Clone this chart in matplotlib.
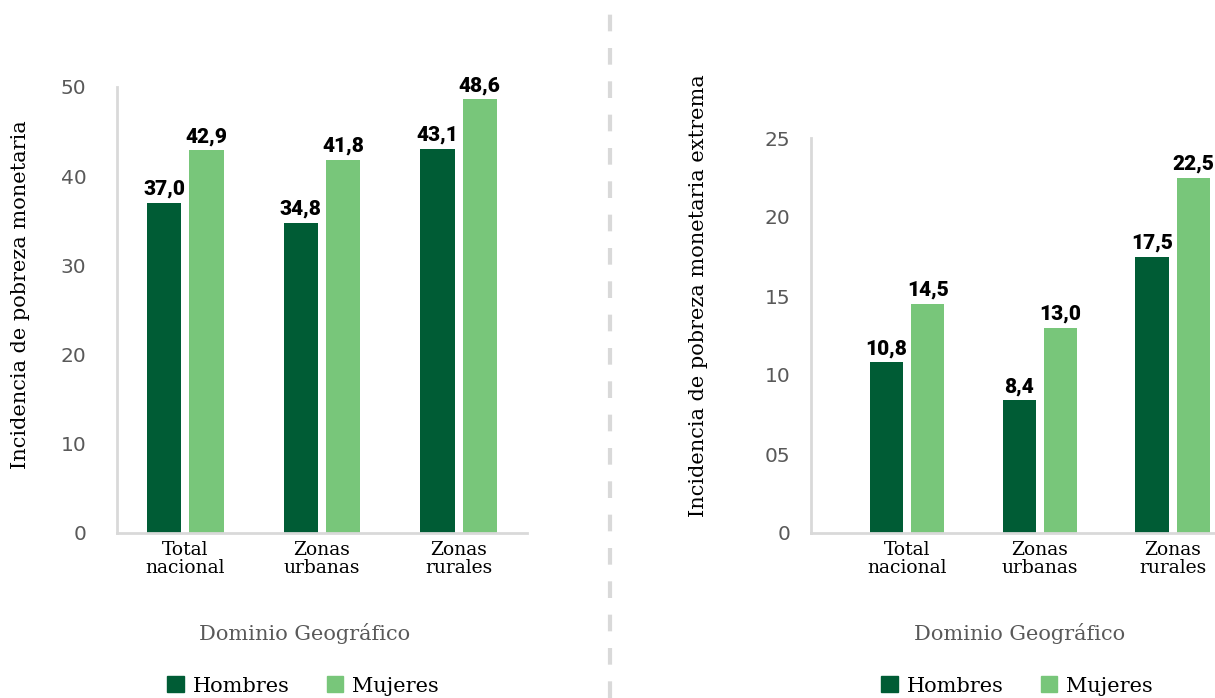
import matplotlib
matplotlib.use("Agg")
import matplotlib.pyplot as plt
import numpy as np
from matplotlib.patches import Patch
from matplotlib.lines import Line2D

# data
categorias = ['Total\nnacional', 'Zonas\nurbanas', 'Zonas\nrurales']
pobreza_hombres = [37.0, 34.8, 43.1]
pobreza_mujeres = [42.9, 41.8, 48.6]
extrema_hombres = [10.8, 8.4, 17.5]
extrema_mujeres = [14.5, 13.0, 22.5]
ticks_izq = [0, 10, 20, 30, 40, 50]
ticks_der = [0, 5, 10, 15, 20, 25]
ticks_der_labels = ['0', '05', '10', '15', '20', '25']

verde_osc = '#005C35'
verde_cla = '#78C67A'
gris_eje = '#d9d9d9'
gris_txt = '#595959'

W, H = 1215, 698
fig = plt.figure(figsize=(W / 100, H / 100), dpi=100)


def px_axes(x0, y_top, x1, y_bot):
    return fig.add_axes([x0 / W, 1 - y_bot / H, (x1 - x0) / W, (y_bot - y_top) / H])


def fmt(v):
    return f'{v:.1f}'.replace('.', ',')


def dibujar(ax, hombres, mujeres, ylim, ticks, ticklabels, ylabel, pad):
    x = np.arange(len(categorias))
    b1 = ax.bar(x - 0.155, hombres, width=0.25, color=verde_osc)
    b2 = ax.bar(x + 0.155, mujeres, width=0.25, color=verde_cla)
    for bars, vals in ((b1, hombres), (b2, mujeres)):
        ax.bar_label(bars, labels=[fmt(v) for v in vals], padding=3,
                     fontsize=15, fontweight='black', color='black',
                     family='Roboto')
    ax.set_ylim(*ylim)
    ax.set_yticks(ticks)
    ax.set_yticklabels(ticklabels, fontsize=14.5, color=gris_txt, family='DejaVu Sans')
    ax.set_xticks(x)
    ax.set_xticklabels(categorias, fontsize=13.5, color='black', family='DejaVu Serif',
                       linespacing=0.95)
    ax.tick_params(axis='y', length=0, pad=pad)
    ax.tick_params(axis='x', length=0, pad=6)
    for s in ('top', 'right'):
        ax.spines[s].set_visible(False)
    for s in ('left', 'bottom'):
        ax.spines[s].set_color(gris_eje)
        ax.spines[s].set_linewidth(2)
    ax.set_ylabel(ylabel, fontsize=15, color='black', family='DejaVu Serif')


ax1 = px_axes(117, 87, 527, 533)
dibujar(ax1, pobreza_hombres, pobreza_mujeres, (0, 50), ticks_izq, [str(t) for t in ticks_izq],
        'Incidencia de pobreza monetaria', 22)
ax1.set_xlim(-0.5, 2.5)
ax1.yaxis.set_label_coords(-0.212, 0.534)

ax2 = px_axes(811, 138, 1215, 533)
dibujar(ax2, extrema_hombres, extrema_mujeres, (0, 25), ticks_der, ticks_der_labels,
        'Incidencia de pobreza monetaria extrema', 15)
ax2.set_xlim(-0.725, 2.32)
ax2.yaxis.set_label_coords(-0.255, 0.6)

# titles of x axes
fig.text(305 / W, 1 - 633 / H, 'Dominio Geográfico', ha='center', va='center',
         fontsize=15, color=gris_txt, family='DejaVu Serif')
fig.text(1020 / W, 1 - 633 / H, 'Dominio Geográfico', ha='center', va='center',
         fontsize=15, color=gris_txt, family='DejaVu Serif')

# legends
handles = [Patch(color=verde_osc, label='Hombres'), Patch(color=verde_cla, label='Mujeres')]
for cx in (303, 1017):
    fig.legend(handles=handles, loc='center', bbox_to_anchor=(cx / W, 1 - 686 / H),
               ncol=2, frameon=False, handlelength=0.8, handleheight=0.8,
               handletextpad=0.4, columnspacing=1.8,
               prop={'family': 'DejaVu Serif', 'size': 15})

# dashed separator
fig.add_artist(Line2D([610 / W, 610 / W], [0, 1], transform=fig.transFigure,
                      color=gris_eje, linewidth=3, linestyle=(0, (4, 4))))

fig.savefig('out.png', dpi=100)
